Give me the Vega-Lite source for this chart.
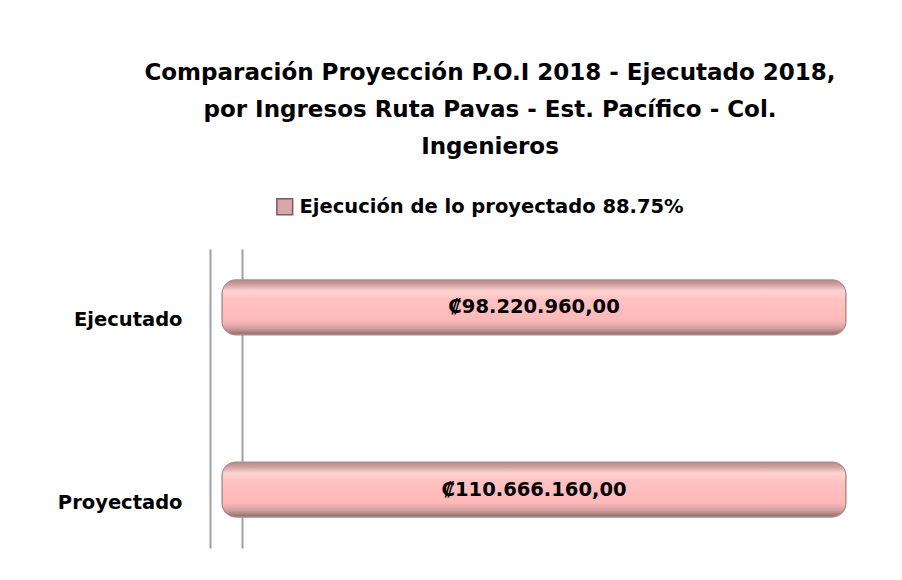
{
  "$schema": "https://vega.github.io/schema/vega-lite/v6.json",
  "width": 636,
  "height": 299,
  "autosize": {"type": "none"},
  "padding": {"left": 210, "top": 249, "right": 56, "bottom": 32},
  "background": "white",
  "config": {"view": {"stroke": null}, "font": "DejaVu Sans"},
  "title": {
    "text": ["Comparación Proyección P.O.I 2018 - Ejecutado 2018,", "por Ingresos Ruta  Pavas - Est. Pacífico - Col.", "Ingenieros"],
    "anchor": "middle",
    "frame": "group",
    "dx": -38,
    "offset": 38,
    "font": "DejaVu Sans",
    "fontSize": 23,
    "fontWeight": "bold",
    "lineHeight": 37,
    "color": "black"
  },
  "data": {
    "values": [
      {"categoria": "Ejecutado", "monto": 98220960, "etiqueta": "₡98.220.960,00", "serie": "Ejecución de lo proyectado 88.75%"},
      {"categoria": "Proyectado", "monto": 110666160, "etiqueta": "₡110.666.160,00", "serie": "Ejecución de lo proyectado 88.75%"}
    ]
  },
  "layer": [
    {
      "mark": {
        "type": "bar",
        "cornerRadius": 14,
        "strokeWidth": 1.2,
        "stroke": "#b08a8a",
        "fill": {
          "gradient": "linear", "x1": 0, "y1": 0, "x2": 0, "y2": 1,
          "stops": [
            {"offset": 0, "color": "#b48888"},
            {"offset": 0.1, "color": "#d4a6a6"},
            {"offset": 0.2, "color": "#ffd3d3"},
            {"offset": 0.35, "color": "#ffc2c2"},
            {"offset": 0.75, "color": "#fdb8b8"},
            {"offset": 0.88, "color": "#d29f9f"},
            {"offset": 1, "color": "#8e6868"}
          ]
        }
      },
      "encoding": {
        "y": {
          "field": "categoria", "type": "nominal", "sort": null,
          "scale": {"paddingInner": 0.698, "paddingOuter": 0.17},
          "axis": {
            "title": null, "domain": false, "ticks": false,
            "labelFont": "DejaVu Sans", "labelFontSize": 19.5, "labelFontWeight": "bold",
            "labelColor": "black", "labelPadding": 28, "labelOffset": 13
          }
        },
        "x": {
          "field": "monto", "type": "quantitative",
          "scale": {"domain": [-1730000, 90000000], "clamp": true, "nice": false},
          "axis": {
            "values": [-1730000, 2885000], "grid": true, "gridColor": "#a0a0a0", "gridWidth": 2,
            "labels": false, "ticks": false, "domain": false, "title": null
          }
        }
      }
    },
    {
      "mark": {"type": "point", "size": 0, "opacity": 0},
      "encoding": {
        "y": {"field": "categoria", "type": "nominal", "sort": null},
        "x": {"field": "monto", "type": "quantitative"},
        "fill": {
          "field": "serie", "type": "nominal",
          "scale": {"range": ["#d8a8a8"]},
          "legend": {
            "title": null, "orient": "none", "legendX": 65, "legendY": -52,
            "symbolType": "square", "symbolSize": 250, "symbolOpacity": 1,
            "symbolStrokeColor": "#7a5a5a", "symbolStrokeWidth": 1.5,
            "labelFont": "DejaVu Sans", "labelFontSize": 19.5, "labelFontWeight": "bold",
            "labelColor": "black", "labelLimit": 600, "labelOffset": 5
          }
        }
      }
    },
    {
      "mark": {"type": "text", "font": "DejaVu Sans", "fontSize": 19.5, "fontWeight": "bold", "color": "black", "align": "center", "baseline": "middle"},
      "encoding": {
        "y": {"field": "categoria", "type": "nominal", "sort": null},
        "x": {"datum": 45000000, "type": "quantitative"},
        "text": {"field": "etiqueta"}
      }
    }
  ]
}
